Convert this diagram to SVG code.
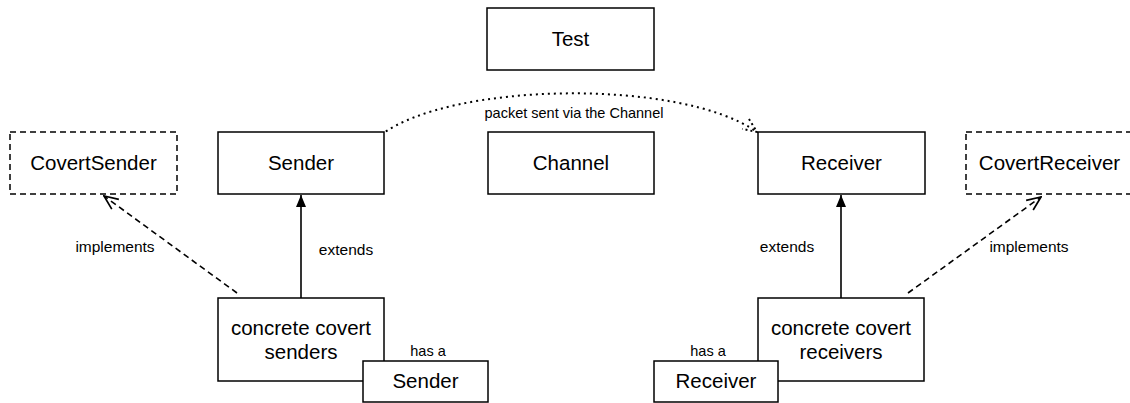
<svg xmlns="http://www.w3.org/2000/svg" width="1130" height="403" viewBox="0 0 1130 403">
<style>
.box{fill:#fff;stroke:#000;stroke-width:1.5}
.dbox{fill:#fff;stroke:#000;stroke-width:1.5;stroke-dasharray:6 4}
.t{font-family:"Liberation Sans",Arial,sans-serif;font-size:20.5px;text-anchor:middle;fill:#000}
.l{font-family:"Liberation Sans",Arial,sans-serif;font-size:15.5px;text-anchor:middle;fill:#000}
.s{font-family:"Liberation Sans",Arial,sans-serif;font-size:14.5px;text-anchor:middle;fill:#000}
.line{fill:none;stroke:#000;stroke-width:1.6}
.dash{fill:none;stroke:#000;stroke-width:1.6;stroke-dasharray:6 4}
.dot{fill:none;stroke:#000;stroke-width:2;stroke-dasharray:2 4}
</style>
<defs>
<marker id="tri" viewBox="0 0 12 12" refX="12" refY="6" markerWidth="12" markerHeight="12" markerUnits="userSpaceOnUse" orient="auto">
<path d="M0,1 L12,6 L0,11 Z" fill="#000"/>
</marker>
<marker id="open" viewBox="0 0 16 16" refX="15" refY="8" markerWidth="16" markerHeight="16" markerUnits="userSpaceOnUse" orient="auto">
<path d="M1,2 L15,8 L1,14" fill="none" stroke="#000" stroke-width="1.7"/>
</marker>
<marker id="openDot" viewBox="0 0 16 16" refX="15" refY="8" markerWidth="16" markerHeight="16" markerUnits="userSpaceOnUse" orient="auto">
<path d="M1,2 L15,8 L1,14" fill="none" stroke="#000" stroke-width="2" stroke-dasharray="2 3"/>
</marker>
</defs>

<g id="connectors">
<path class="dot" d="M381,135 C450,82 680,78 757,132" marker-end="url(#openDot)"/>
<text class="s" x="574" y="118">packet sent via the Channel</text>
<line class="line" x1="301" y1="298" x2="301" y2="195" marker-end="url(#tri)"/>
<text class="l" x="346" y="255">extends</text>
<line class="dash" x1="237" y1="293" x2="104" y2="196" marker-end="url(#open)"/>
<text class="l" x="115" y="252">implements</text>
<line class="line" x1="841" y1="298" x2="841" y2="195" marker-end="url(#tri)"/>
<text class="l" x="787" y="252">extends</text>
<line class="dash" x1="908" y1="293" x2="1041" y2="197" marker-end="url(#open)"/>
<text class="l" x="1029" y="252">implements</text>
<text class="s" x="428" y="356">has a</text>
<text class="s" x="708" y="356">has a</text>
</g>

<g id="test"><rect class="box" x="487" y="8" width="167" height="62"/><text class="t" x="570.5" y="46">Test</text></g>
<g id="covertSender"><rect class="dbox" x="10" y="132" width="167" height="62"/><text class="t" x="93.5" y="170">CovertSender</text></g>
<g id="sender"><rect class="box" x="218" y="132" width="166" height="62"/><text class="t" x="301" y="170">Sender</text></g>
<g id="channel"><rect class="box" x="488" y="132" width="166" height="62"/><text class="t" x="571" y="170">Channel</text></g>
<g id="receiver"><rect class="box" x="758" y="132" width="167" height="62"/><text class="t" x="841.5" y="170">Receiver</text></g>
<g id="covertReceiver"><rect class="dbox" x="966" y="132" width="167" height="62"/><text class="t" x="1049.5" y="170">CovertReceiver</text></g>
<g id="concreteSenders"><rect class="box" x="218" y="298" width="166" height="83"/><text class="t" x="301" y="335">concrete covert</text><text class="t" x="301" y="359">senders</text></g>
<g id="senderSmall"><rect class="box" x="363" y="361" width="125" height="41"/><text class="t" x="425.5" y="388">Sender</text></g>
<g id="concreteReceivers"><rect class="box" x="758" y="298" width="166" height="83"/><text class="t" x="841" y="335">concrete covert</text><text class="t" x="841" y="359">receivers</text></g>
<g id="receiverSmall"><rect class="box" x="654" y="361" width="124" height="41"/><text class="t" x="716" y="388">Receiver</text></g>
</svg>
